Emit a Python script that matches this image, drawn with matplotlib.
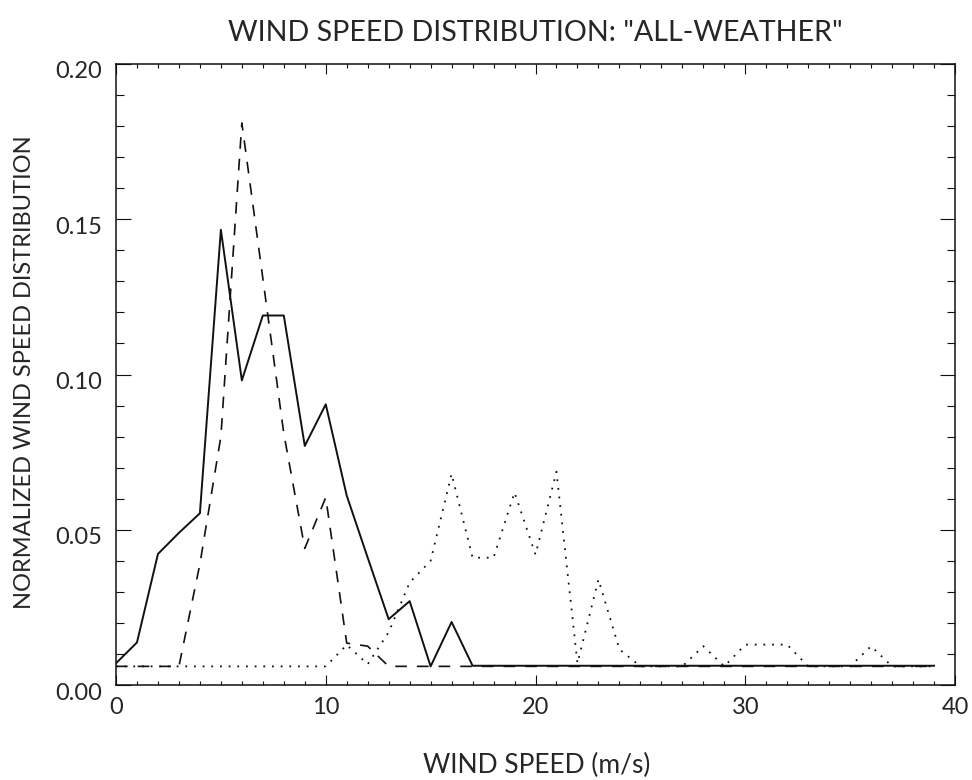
import matplotlib
matplotlib.use("Agg")
import matplotlib.pyplot as plt
from matplotlib.ticker import MultipleLocator, FormatStrFormatter
from matplotlib.transforms import ScaledTranslation

# ---- data ----
wind_speed = [0, 1, 2, 3, 4, 5, 6, 7, 8, 9,
              10, 11, 12, 13, 14, 15, 16, 17, 18, 19,
              20, 21, 22, 23, 24, 25, 26, 27, 28, 29,
              30, 31, 32, 33, 34, 35, 36, 37, 38, 39]

solid_dist = [0.0070, 0.0137, 0.0422, 0.0490, 0.0553, 0.1466, 0.0981, 0.1190, 0.1190, 0.0770,
              0.0904, 0.0610, 0.0410, 0.0212, 0.0270, 0.0060, 0.0203, 0.0062, 0.0062, 0.0062,
              0.0062, 0.0062, 0.0062, 0.0062, 0.0062, 0.0062, 0.0062, 0.0062, 0.0062, 0.0062,
              0.0062, 0.0062, 0.0062, 0.0062, 0.0062, 0.0062, 0.0062, 0.0062, 0.0062, 0.0062]

dashed_dist = [0.0060, 0.0060, 0.0060, 0.0060, 0.0390, 0.0800, 0.1810, 0.1310, 0.0810, 0.0440,
               0.0604, 0.0135, 0.0125, 0.0060, 0.0060, 0.0060, 0.0060, 0.0060, 0.0060, 0.0060,
               0.0060, 0.0060, 0.0060, 0.0060, 0.0060, 0.0060, 0.0060, 0.0060, 0.0060, 0.0060,
               0.0060, 0.0060, 0.0060, 0.0060, 0.0060, 0.0060, 0.0060, 0.0060, 0.0060, 0.0060]

dotted_dist = [0.0060, 0.0060, 0.0060, 0.0060, 0.0060, 0.0060, 0.0060, 0.0060, 0.0060, 0.0060,
               0.0060, 0.0129, 0.0067, 0.0170, 0.0330, 0.0400, 0.0680, 0.0410, 0.0410, 0.0620,
               0.0420, 0.0687, 0.0070, 0.0340, 0.0115, 0.0060, 0.0060, 0.0060, 0.0125, 0.0060,
               0.0130, 0.0130, 0.0130, 0.0060, 0.0060, 0.0060, 0.0125, 0.0060, 0.0060, 0.0060]

x_ticks = [0, 10, 20, 30, 40]
y_ticks = [0.00, 0.05, 0.10, 0.15, 0.20]

title_text = 'WIND SPEED DISTRIBUTION: "ALL-WEATHER"'
xlabel_text = "WIND SPEED (m/s)"
ylabel_text = "NORMALIZED WIND SPEED DISTRIBUTION"

# ---- style ----
FONT = ["Lato", "DejaVu Sans"]
plt.rcParams["font.family"] = FONT
plt.rcParams["font.weight"] = "normal"
TXT = "#262626"
INK = "#111111"

W, H = 972, 780
fig = plt.figure(figsize=(W / 100, H / 100), dpi=100)
fig.patch.set_facecolor("white")

left_px, right_px, top_px, bottom_px = 116, 955, 64, 685
ax = fig.add_axes([left_px / W, 1 - bottom_px / H,
                   (right_px - left_px) / W, (bottom_px - top_px) / H])

ax.plot(wind_speed, solid_dist, color=INK, lw=1.4, linestyle="-")
ax.plot(wind_speed, dashed_dist, color=INK, lw=1.2, linestyle=(0, (7.0, 6.0)))
ax.plot(wind_speed, dotted_dist, color=INK, lw=1.3, linestyle=(0, (1.0, 3.8)))

ax.set_xlim(0, 40)
ax.set_ylim(0, 0.20)
ax.set_xticks(x_ticks)
ax.set_yticks(y_ticks)
ax.xaxis.set_minor_locator(MultipleLocator(1))
ax.yaxis.set_minor_locator(MultipleLocator(0.01))
ax.yaxis.set_major_formatter(FormatStrFormatter("%.2f"))

for sp in ax.spines.values():
    sp.set_linewidth(1.1)
    sp.set_color(INK)

ax.tick_params(axis="both", which="both", direction="in", top=True, right=True,
               width=0.8, color=INK, labelcolor=TXT, labelsize=17)
ax.tick_params(axis="y", which="major", length=10.5, pad=10)
ax.tick_params(axis="y", which="minor", length=5.5)
ax.tick_params(axis="x", which="major", length=7, pad=9)
ax.tick_params(axis="x", which="minor", length=3)

for lab in ax.get_yticklabels():
    lab.set_transform(lab.get_transform() + ScaledTranslation(0, -6 / 100, fig.dpi_scale_trans))

fig.text(535 / W, 1 - 33 / H, title_text, ha="center", va="center",
         fontsize=20.6, color=TXT)
fig.text(537 / W, 1 - 765 / H, xlabel_text, ha="center", va="center",
         fontsize=19, color=TXT)
fig.text(25 / W, 1 - 372 / H, ylabel_text, ha="center", va="center",
         rotation=90, fontsize=17, color=TXT)

fig.savefig("out.png", dpi=100, facecolor="white")
